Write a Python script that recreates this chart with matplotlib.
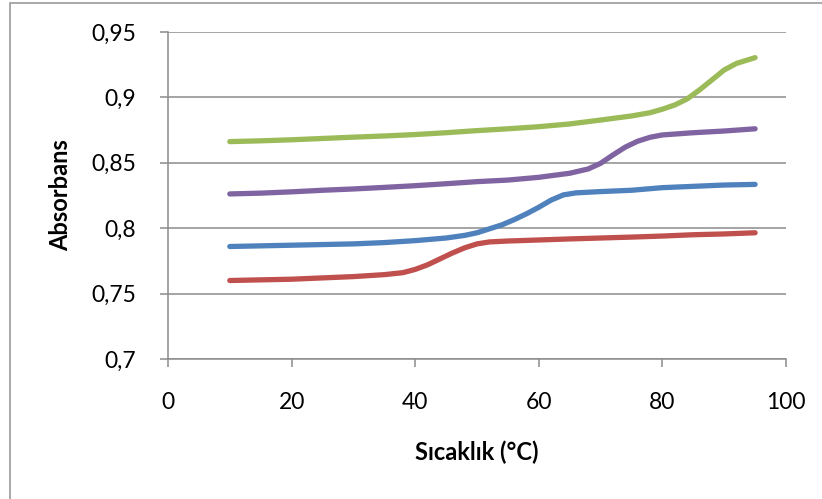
import matplotlib
matplotlib.use("Agg")
import matplotlib.pyplot as plt
from matplotlib.ticker import FuncFormatter
from matplotlib.patches import Rectangle

plt.rcParams['font.family'] = ['Lato', 'DejaVu Sans']

# Data
red_x = [10, 15, 20, 25, 30, 35, 38, 40, 42, 44, 46, 48, 50, 52, 55, 60, 65, 70, 75, 80, 85, 90, 95]
red_y = [0.7600, 0.7605, 0.7610, 0.7620, 0.7630, 0.7645, 0.7660, 0.7685, 0.7720, 0.7765, 0.7810, 0.7850, 0.7880, 0.7895, 0.7902, 0.7910, 0.7918, 0.7925, 0.7932, 0.7940, 0.7950, 0.7956, 0.7965]

blue_x = [10, 15, 20, 25, 30, 35, 40, 45, 48, 50, 52, 54, 56, 58, 60, 62, 64, 66, 70, 75, 80, 85, 90, 95]
blue_y = [0.7860, 0.7865, 0.7870, 0.7875, 0.7880, 0.7890, 0.7905, 0.7925, 0.7945, 0.7965, 0.7995, 0.8025, 0.8065, 0.8110, 0.8160, 0.8215, 0.8255, 0.8270, 0.8280, 0.8290, 0.8310, 0.8320, 0.8330, 0.8335]

purple_x = [10, 15, 20, 25, 30, 35, 40, 45, 50, 55, 60, 65, 68, 70, 72, 74, 76, 78, 80, 85, 90, 95]
purple_y = [0.8262, 0.8268, 0.8278, 0.8290, 0.8300, 0.8312, 0.8325, 0.8340, 0.8356, 0.8368, 0.8389, 0.8420, 0.8453, 0.8496, 0.8560, 0.8620, 0.8665, 0.8695, 0.8713, 0.8730, 0.8743, 0.8760]

green_x = [10, 15, 20, 25, 30, 35, 40, 45, 50, 55, 60, 65, 70, 75, 78, 80, 82, 84, 86, 88, 90, 92, 95]
green_y = [0.8662, 0.8668, 0.8676, 0.8686, 0.8696, 0.8705, 0.8716, 0.8730, 0.8746, 0.8760, 0.8776, 0.8797, 0.8827, 0.8858, 0.8883, 0.8910, 0.8942, 0.8988, 0.9057, 0.9133, 0.9210, 0.9260, 0.9304]

series = [
    (red_x, red_y, '#C0504D'),
    (blue_x, blue_y, '#4F81BD'),
    (purple_x, purple_y, '#8064A2'),
    (green_x, green_y, '#9BBB59'),
]

x_ticks = [0, 20, 40, 60, 80, 100]
y_ticks = [0.7, 0.75, 0.8, 0.85, 0.9, 0.95]

fig = plt.figure(figsize=(8.22, 4.99), dpi=100)
ax = fig.add_axes([168/822, 1-359/499, (786-168)/822, (359-32)/499])

for xs, ys, c in series:
    ax.plot(xs, ys, color=c, lw=3.8, solid_capstyle='round', solid_joinstyle='round', zorder=3)

ax.set_xlim(0, 100)
ax.set_ylim(0.7, 0.95)
ax.set_xticks(x_ticks)
ax.set_yticks(y_ticks)

def fmt(v, pos):
    s = ('%.2f' % v).rstrip('0').rstrip('.')
    return s.replace('.', ',')
ax.yaxis.set_major_formatter(FuncFormatter(fmt))

gridc = '#8C8C8C'
ax.grid(axis='y', color=gridc, lw=1.1, zorder=1)
ax.set_axisbelow(True)
for s in ['top', 'right']:
    ax.spines[s].set_visible(False)
for s in ['left', 'bottom']:
    ax.spines[s].set_color(gridc)
    ax.spines[s].set_linewidth(1.1)

ax.tick_params(axis='both', colors=gridc, length=5.8, width=1.1, labelsize=16.5, labelcolor='black')
ax.tick_params(axis='x', pad=18)
ax.tick_params(axis='y', pad=17)

ax.set_xlabel('Sıcaklık (°C)', fontsize=17, fontweight='bold', labelpad=20)
ax.set_ylabel('Absorbans', fontsize=17, fontweight='bold', labelpad=14)

# chart frame (only left and top edges visible in the crop)
fig.patches.append(Rectangle((10/822, -0.1), 1.2, 1 - 2.5/499 + 0.1, transform=fig.transFigure,
                             fill=False, edgecolor='#9A9A9A', lw=1.2))

fig.savefig('out.png', dpi=100)
